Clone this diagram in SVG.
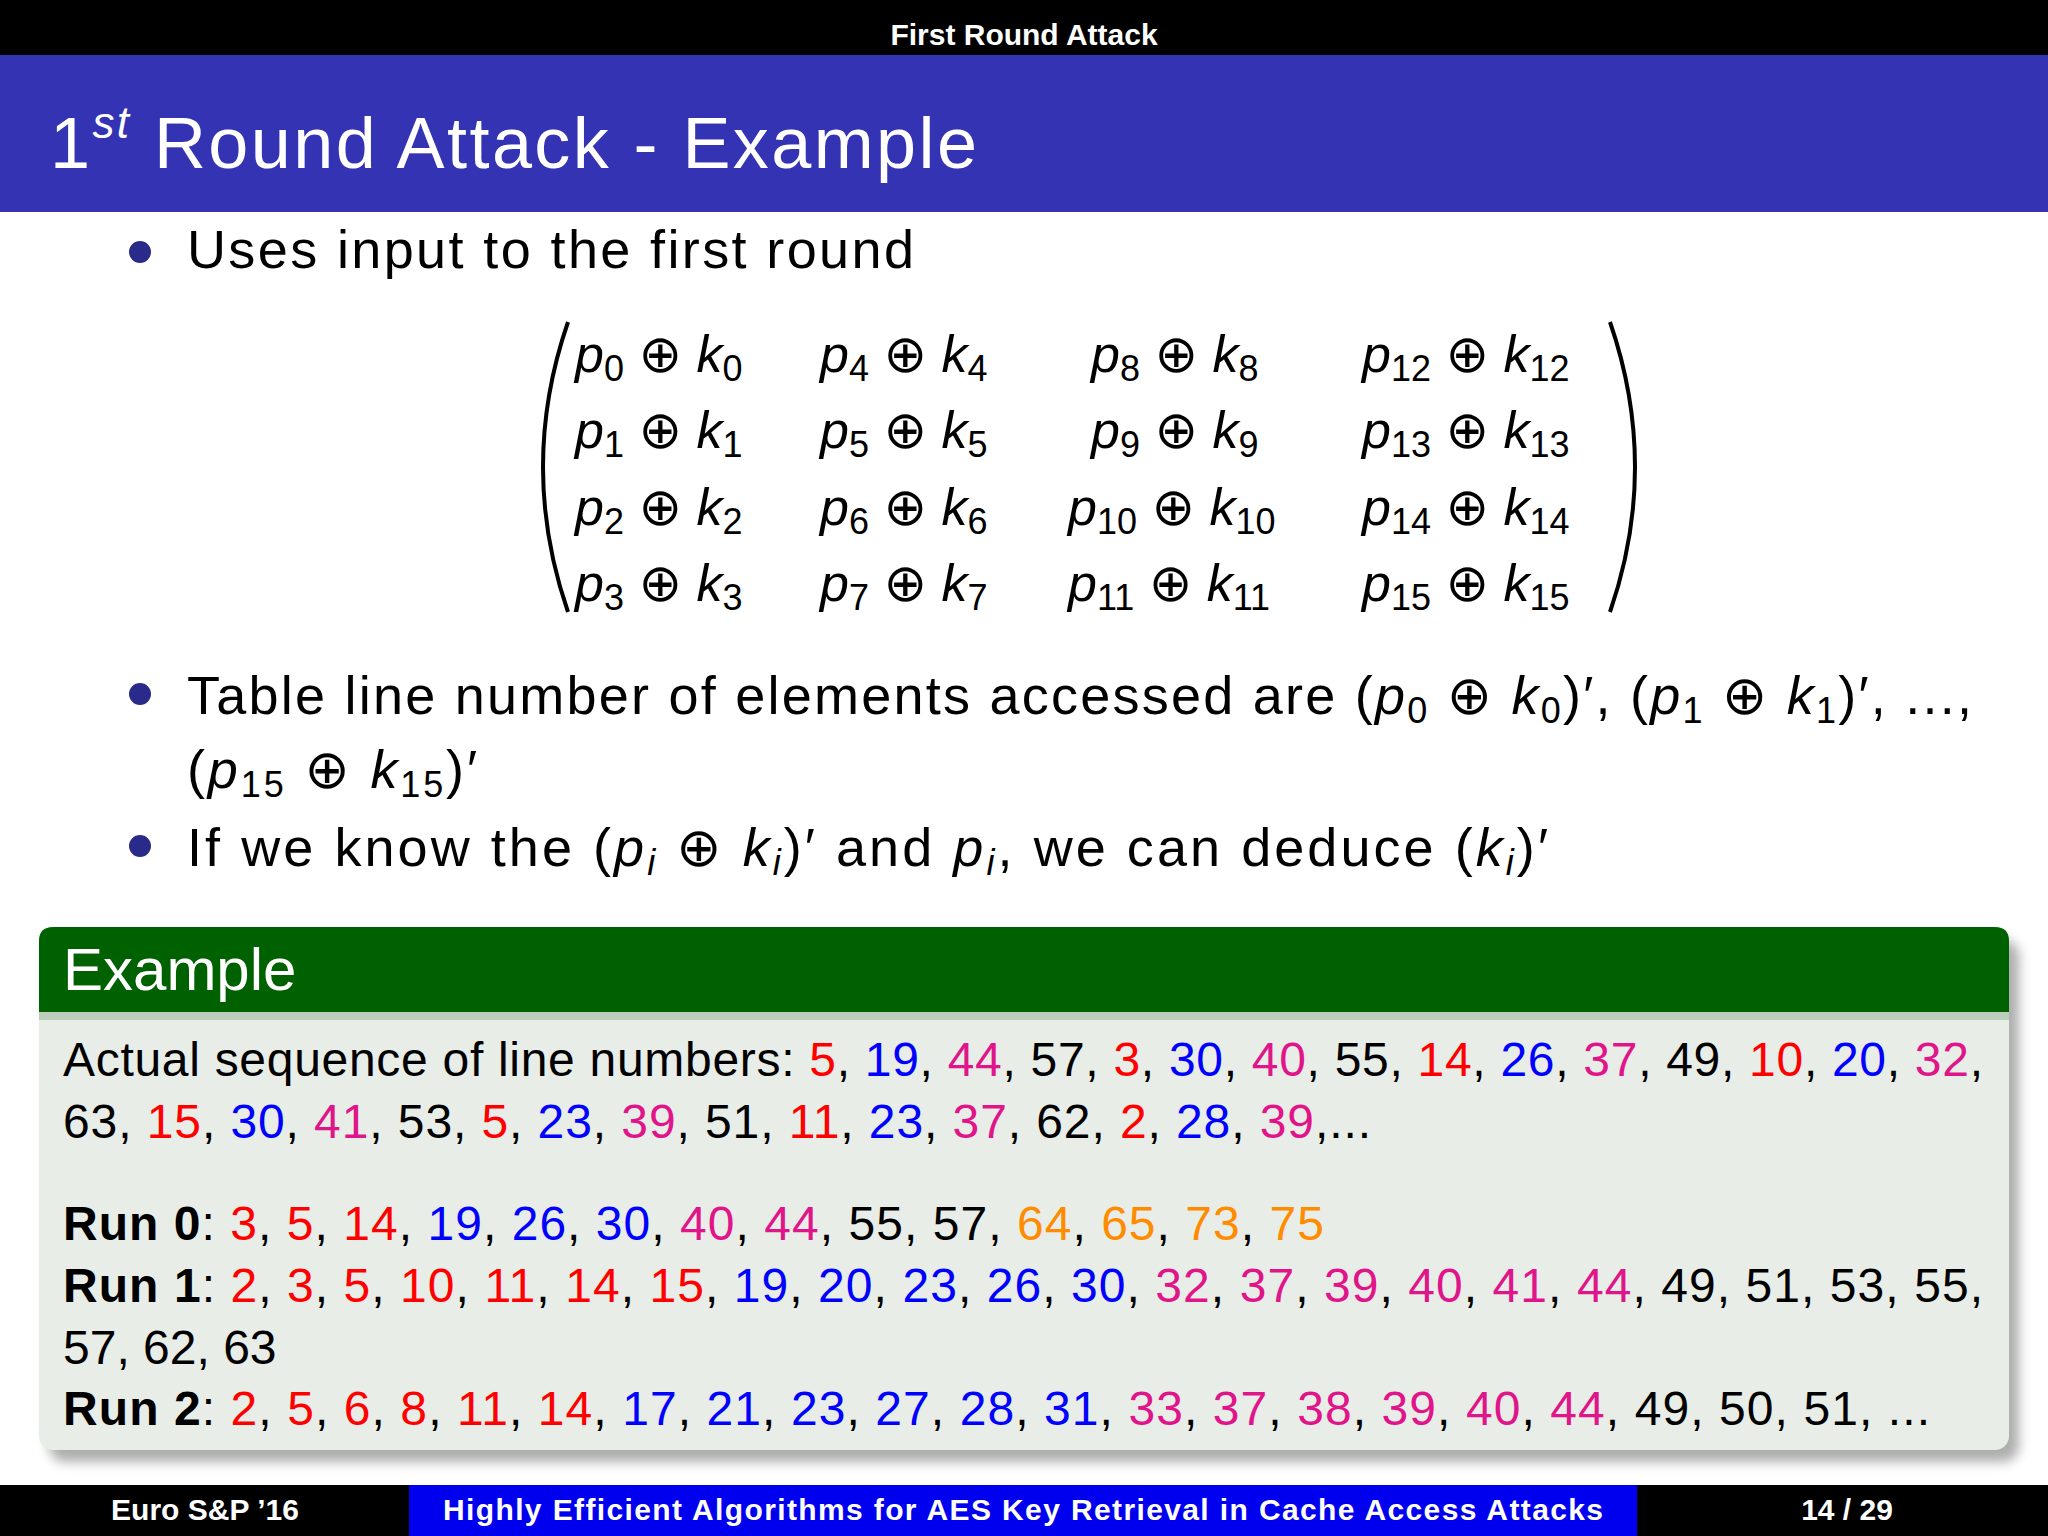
<svg xmlns="http://www.w3.org/2000/svg" width="2048" height="1536" viewBox="0 0 2048 1536">
<defs>
<style>
text{font-family:"Liberation Sans","DejaVu Sans",sans-serif;}
.r{fill:#ff0000}.b{fill:#0000ff}.m{fill:#e0158a}.o{fill:#ff8c00}
.i{font-style:italic}
.mx{font-size:52px;fill:#000}
.body{font-size:48px;fill:#000}
.bl{font-size:54px;fill:#000}
</style>
<filter id="sh" x="-5%" y="-5%" width="110%" height="115%"><feGaussianBlur stdDeviation="6"/></filter>
</defs>
<rect width="2048" height="1536" fill="#fff"/>
<g id="header">
<rect x="0" y="0" width="2048" height="55" fill="#000"/>
<text x="1024" y="45" text-anchor="middle" font-size="30" font-weight="bold" fill="#fff">First Round Attack</text>
<rect x="0" y="55" width="2048" height="157" fill="#3333b3"/>
<text x="50" y="168" font-size="72" fill="#fff" textLength="927" lengthAdjust="spacing">1<tspan class="i" font-size="44" dy="-30">st</tspan><tspan dy="30"> Round Attack - Example</tspan></text>
</g>
<g id="bullets">
<circle cx="140" cy="252" r="11" fill="#2a2a8a"/>
<text x="187" y="268" class="bl" textLength="727" lengthAdjust="spacing">Uses input to the first round</text>
<circle cx="140" cy="694" r="11" fill="#2a2a8a"/>
<text x="187" y="714" class="bl" textLength="1785" lengthAdjust="spacing">Table line number of elements accessed are (<tspan class="i">p</tspan><tspan font-size="36" dy="9">0</tspan><tspan dy="-9"> ⊕ </tspan><tspan class="i">k</tspan><tspan font-size="36" dy="9">0</tspan><tspan dy="-9">)′, (</tspan><tspan class="i">p</tspan><tspan font-size="36" dy="9">1</tspan><tspan dy="-9"> ⊕ </tspan><tspan class="i">k</tspan><tspan font-size="36" dy="9">1</tspan><tspan dy="-9">)′, ...,</tspan></text>
<text x="187" y="788" class="bl" textLength="290" lengthAdjust="spacing">(<tspan class="i">p</tspan><tspan font-size="36" dy="9">15</tspan><tspan dy="-9"> ⊕ </tspan><tspan class="i">k</tspan><tspan font-size="36" dy="9">15</tspan><tspan dy="-9">)′</tspan></text>
<circle cx="140" cy="846" r="11" fill="#2a2a8a"/>
<text x="187" y="866" class="bl" textLength="1361" lengthAdjust="spacing">If we know the (<tspan class="i">p<tspan font-size="36" dy="9">i</tspan></tspan><tspan dy="-9"> ⊕ </tspan><tspan class="i">k<tspan font-size="36" dy="9">i</tspan></tspan><tspan dy="-9">)′ and </tspan><tspan class="i">p<tspan font-size="36" dy="9">i</tspan></tspan><tspan dy="-9">, we can deduce (</tspan><tspan class="i">k<tspan font-size="36" dy="9">i</tspan></tspan><tspan dy="-9">)′</tspan></text>
</g>
<g id="matrix">
<path d="M568,322 Q518,467 568,612" fill="none" stroke="#000" stroke-width="4"/>
<path d="M1610,322 Q1660,467 1610,612" fill="none" stroke="#000" stroke-width="4"/>
<text x="575" y="372" class="mx"><tspan class="i">p</tspan><tspan font-size="36" dy="9">0</tspan><tspan dy="-9"> ⊕ </tspan><tspan class="i">k</tspan><tspan font-size="36" dy="9">0</tspan></text>
<text x="575" y="448" class="mx"><tspan class="i">p</tspan><tspan font-size="36" dy="9">1</tspan><tspan dy="-9"> ⊕ </tspan><tspan class="i">k</tspan><tspan font-size="36" dy="9">1</tspan></text>
<text x="575" y="525" class="mx"><tspan class="i">p</tspan><tspan font-size="36" dy="9">2</tspan><tspan dy="-9"> ⊕ </tspan><tspan class="i">k</tspan><tspan font-size="36" dy="9">2</tspan></text>
<text x="575" y="601" class="mx"><tspan class="i">p</tspan><tspan font-size="36" dy="9">3</tspan><tspan dy="-9"> ⊕ </tspan><tspan class="i">k</tspan><tspan font-size="36" dy="9">3</tspan></text>
<text x="820" y="372" class="mx"><tspan class="i">p</tspan><tspan font-size="36" dy="9">4</tspan><tspan dy="-9"> ⊕ </tspan><tspan class="i">k</tspan><tspan font-size="36" dy="9">4</tspan></text>
<text x="820" y="448" class="mx"><tspan class="i">p</tspan><tspan font-size="36" dy="9">5</tspan><tspan dy="-9"> ⊕ </tspan><tspan class="i">k</tspan><tspan font-size="36" dy="9">5</tspan></text>
<text x="820" y="525" class="mx"><tspan class="i">p</tspan><tspan font-size="36" dy="9">6</tspan><tspan dy="-9"> ⊕ </tspan><tspan class="i">k</tspan><tspan font-size="36" dy="9">6</tspan></text>
<text x="820" y="601" class="mx"><tspan class="i">p</tspan><tspan font-size="36" dy="9">7</tspan><tspan dy="-9"> ⊕ </tspan><tspan class="i">k</tspan><tspan font-size="36" dy="9">7</tspan></text>
<text x="1091" y="372" class="mx"><tspan class="i">p</tspan><tspan font-size="36" dy="9">8</tspan><tspan dy="-9"> ⊕ </tspan><tspan class="i">k</tspan><tspan font-size="36" dy="9">8</tspan></text>
<text x="1091" y="448" class="mx"><tspan class="i">p</tspan><tspan font-size="36" dy="9">9</tspan><tspan dy="-9"> ⊕ </tspan><tspan class="i">k</tspan><tspan font-size="36" dy="9">9</tspan></text>
<text x="1068" y="525" class="mx"><tspan class="i">p</tspan><tspan font-size="36" dy="9">10</tspan><tspan dy="-9"> ⊕ </tspan><tspan class="i">k</tspan><tspan font-size="36" dy="9">10</tspan></text>
<text x="1068" y="601" class="mx"><tspan class="i">p</tspan><tspan font-size="36" dy="9">11</tspan><tspan dy="-9"> ⊕ </tspan><tspan class="i">k</tspan><tspan font-size="36" dy="9">11</tspan></text>
<text x="1362" y="372" class="mx"><tspan class="i">p</tspan><tspan font-size="36" dy="9">12</tspan><tspan dy="-9"> ⊕ </tspan><tspan class="i">k</tspan><tspan font-size="36" dy="9">12</tspan></text>
<text x="1362" y="448" class="mx"><tspan class="i">p</tspan><tspan font-size="36" dy="9">13</tspan><tspan dy="-9"> ⊕ </tspan><tspan class="i">k</tspan><tspan font-size="36" dy="9">13</tspan></text>
<text x="1362" y="525" class="mx"><tspan class="i">p</tspan><tspan font-size="36" dy="9">14</tspan><tspan dy="-9"> ⊕ </tspan><tspan class="i">k</tspan><tspan font-size="36" dy="9">14</tspan></text>
<text x="1362" y="601" class="mx"><tspan class="i">p</tspan><tspan font-size="36" dy="9">15</tspan><tspan dy="-9"> ⊕ </tspan><tspan class="i">k</tspan><tspan font-size="36" dy="9">15</tspan></text>
</g>
<g id="example">
<rect x="49" y="940" width="1970" height="522" rx="16" fill="#777" opacity="0.6" filter="url(#sh)"/>
<rect x="39" y="927" width="1970" height="523" rx="14" fill="#e8ede8"/>
<path d="M39,1012 V941 Q39,927 53,927 H1995 Q2009,927 2009,941 V1012 Z" fill="#006100"/>
<rect x="39" y="1012" width="1970" height="8" fill="#8fae8f" opacity="0.5"/>
<text x="63" y="990" font-size="60" fill="#fff">Example</text>
<text x="63" y="1076" class="body" textLength="1920" lengthAdjust="spacing">Actual sequence of line numbers: <tspan class="r">5</tspan>, <tspan class="b">19</tspan>, <tspan class="m">44</tspan>, 57, <tspan class="r">3</tspan>, <tspan class="b">30</tspan>, <tspan class="m">40</tspan>, 55, <tspan class="r">14</tspan>, <tspan class="b">26</tspan>, <tspan class="m">37</tspan>, 49, <tspan class="r">10</tspan>, <tspan class="b">20</tspan>, <tspan class="m">32</tspan>,</text>
<text x="63" y="1138" class="body" textLength="1308" lengthAdjust="spacing">63, <tspan class="r">15</tspan>, <tspan class="b">30</tspan>, <tspan class="m">41</tspan>, 53, <tspan class="r">5</tspan>, <tspan class="b">23</tspan>, <tspan class="m">39</tspan>, 51, <tspan class="r">11</tspan>, <tspan class="b">23</tspan>, <tspan class="m">37</tspan>, 62, <tspan class="r">2</tspan>, <tspan class="b">28</tspan>, <tspan class="m">39</tspan>,...</text>
<text x="63" y="1240" class="body" textLength="1261" lengthAdjust="spacing"><tspan font-weight="bold">Run 0</tspan>: <tspan class="r">3</tspan>, <tspan class="r">5</tspan>, <tspan class="r">14</tspan>, <tspan class="b">19</tspan>, <tspan class="b">26</tspan>, <tspan class="b">30</tspan>, <tspan class="m">40</tspan>, <tspan class="m">44</tspan>, 55, 57, <tspan class="o">64</tspan>, <tspan class="o">65</tspan>, <tspan class="o">73</tspan>, <tspan class="o">75</tspan></text>
<text x="63" y="1302" class="body" textLength="1920" lengthAdjust="spacing"><tspan font-weight="bold">Run 1</tspan>: <tspan class="r">2</tspan>, <tspan class="r">3</tspan>, <tspan class="r">5</tspan>, <tspan class="r">10</tspan>, <tspan class="r">11</tspan>, <tspan class="r">14</tspan>, <tspan class="r">15</tspan>, <tspan class="b">19</tspan>, <tspan class="b">20</tspan>, <tspan class="b">23</tspan>, <tspan class="b">26</tspan>, <tspan class="b">30</tspan>, <tspan class="m">32</tspan>, <tspan class="m">37</tspan>, <tspan class="m">39</tspan>, <tspan class="m">40</tspan>, <tspan class="m">41</tspan>, <tspan class="m">44</tspan>, 49, 51, 53, 55,</text>
<text x="63" y="1364" class="body">57, 62, 63</text>
<text x="63" y="1425" class="body" textLength="1867" lengthAdjust="spacing"><tspan font-weight="bold">Run 2</tspan>: <tspan class="r">2</tspan>, <tspan class="r">5</tspan>, <tspan class="r">6</tspan>, <tspan class="r">8</tspan>, <tspan class="r">11</tspan>, <tspan class="r">14</tspan>, <tspan class="b">17</tspan>, <tspan class="b">21</tspan>, <tspan class="b">23</tspan>, <tspan class="b">27</tspan>, <tspan class="b">28</tspan>, <tspan class="b">31</tspan>, <tspan class="m">33</tspan>, <tspan class="m">37</tspan>, <tspan class="m">38</tspan>, <tspan class="m">39</tspan>, <tspan class="m">40</tspan>, <tspan class="m">44</tspan>, 49, 50, 51, ...</text>
</g>
<g id="footer">
<rect x="0" y="1485" width="2048" height="51" fill="#000"/>
<rect x="409" y="1485" width="1228" height="51" fill="#0000ee"/>
<text x="205" y="1520" text-anchor="middle" font-size="30" font-weight="bold" fill="#fff">Euro S&amp;P ’16</text>
<text x="1023" y="1520" text-anchor="middle" font-size="30" font-weight="bold" fill="#fff" textLength="1160" lengthAdjust="spacing">Highly Efficient Algorithms for AES Key Retrieval in Cache Access Attacks</text>
<text x="1847" y="1520" text-anchor="middle" font-size="30" font-weight="bold" fill="#fff">14 / 29</text>
</g>
</svg>
